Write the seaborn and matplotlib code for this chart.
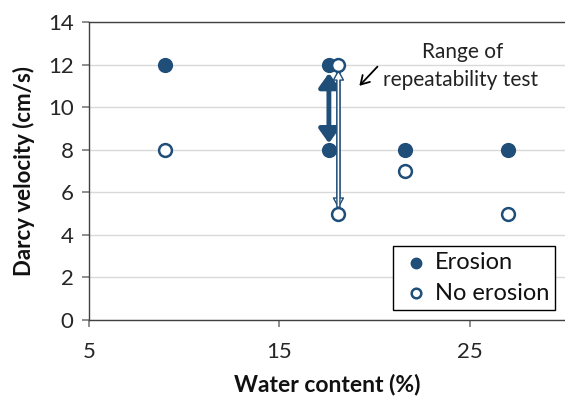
import matplotlib
matplotlib.use("Agg")
import matplotlib.pyplot as plt
import seaborn as sns
import pandas as pd

# Data
erosion_x = [9.0, 17.6, 17.6, 21.6, 27.0]
erosion_y = [12, 12, 8, 8, 8]
noerosion_x = [9.0, 18.1, 18.1, 21.6, 27.0]
noerosion_y = [8, 12, 5, 7, 5]
x_ticks = [5, 15, 25]
y_ticks = [0, 2, 4, 6, 8, 10, 12, 14]

sns.set_theme(style="white")
plt.rcParams['font.family'] = ['Lato', 'DejaVu Sans']

blue = "#1f4e79"
fig = plt.figure(figsize=(5.65, 3.99), dpi=100)
ax = fig.add_axes([0.1575, 0.198, 0.8425, 0.747])

df_e = pd.DataFrame({"x": erosion_x, "y": erosion_y})
df_n = pd.DataFrame({"x": noerosion_x, "y": noerosion_y})

# repeatability arrows
ax.annotate("", xy=(17.6, 8.3), xytext=(17.6, 11.6),
            arrowprops=dict(arrowstyle="<|-|>,head_length=0.7,head_width=0.5",
                            color=blue, lw=3.5, shrinkA=0, shrinkB=0), zorder=2)
for a, b in [((18.1, 5.3), (18.1, 11.7)), ((18.1, 11.7), (18.1, 5.3))]:
    ax.annotate("", xy=a, xytext=b,
                arrowprops=dict(arrowstyle="simple,head_length=0.55,head_width=0.6,tail_width=0.18",
                                fc="white", ec=blue, lw=1.0, shrinkA=0, shrinkB=0), zorder=2)

sns.scatterplot(data=df_e, x="x", y="y", ax=ax, s=95, color=blue,
                edgecolor=blue, linewidth=1.2, label="Erosion", zorder=3)
sns.scatterplot(data=df_n, x="x", y="y", ax=ax, s=85, color="white",
                edgecolor=blue, linewidth=1.8, label="No erosion", zorder=3)

ax.annotate("", xy=(19.2, 11.0), xytext=(20.15, 11.9),
            arrowprops=dict(arrowstyle="->,head_length=0.5,head_width=0.3", color="black", lw=1.3,
                            shrinkA=0, shrinkB=0))
ax.text(24.6, 12.6, "Range of", ha="center", va="center", fontsize=15, color="#222222")
ax.text(24.5, 11.25, "repeatability test", ha="center", va="center", fontsize=15, color="#222222")

ax.set_xlim(5, 30)
ax.set_ylim(0, 14)
ax.set_xticks(x_ticks)
ax.set_yticks(y_ticks)
ax.grid(axis="y", color="#d9d9d9", lw=1.0)
ax.set_axisbelow(True)
for side in ["left", "bottom", "top"]:
    ax.spines[side].set_color("#404040")
    ax.spines[side].set_linewidth(1.0)
ax.spines["right"].set_visible(False)
ax.tick_params(axis="both", which="major", labelsize=16, length=5, color="#808080",
               labelcolor="#262626", direction="out", bottom=True, left=True)
ax.tick_params(axis="x", pad=11)
ax.tick_params(axis="y", pad=6)
ax.set_xlabel("Water content (%)", fontsize=16.5, fontweight="bold", labelpad=8, color="#111111")
ax.set_ylabel("Darcy velocity (cm/s)", fontsize=16, fontweight="bold", labelpad=9, color="#111111")

leg = ax.legend(loc="lower right", bbox_to_anchor=(0.98, 0.035), fontsize=17,
                frameon=True, fancybox=False, edgecolor="black", framealpha=1,
                handletextpad=0.05, borderpad=0.25, labelspacing=0.4, markerscale=0.75,
                handlelength=1.5, borderaxespad=0)
leg.get_frame().set_linewidth(1.0)
for t in leg.get_texts():
    t.set_color("#111111")

fig.savefig("out.png", dpi=100)
